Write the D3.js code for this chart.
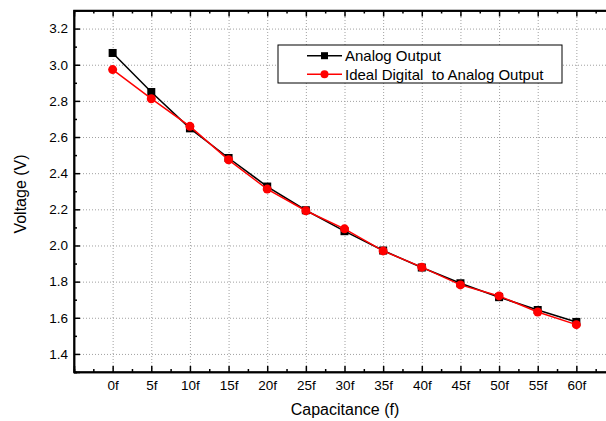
<!DOCTYPE html>
<html>
<head>
<meta charset="utf-8">
<script src="https://cdn.jsdelivr.net/npm/d3@7"></script>
<style>
  body { margin: 0; background: #fff; }
  svg { display: block; font-family: "Liberation Sans", Arial, sans-serif; }
  .grid line { stroke: #a0a0a0; stroke-width: 1; stroke-dasharray: 1,2; }
  .grid path { display: none; }
  .axis path, .axis line { stroke: #000; stroke-width: 1.5; }
  .axis text { font-size: 13.5px; fill: #000; }
</style>
</head>
<body>
<svg width="606" height="421"></svg>
<script>
// data
const capacitance = [0, 5, 10, 15, 20, 25, 30, 35, 40, 45, 50, 55, 60];
const analogOut = [3.065, 2.849, 2.648, 2.484, 2.326, 2.195, 2.079, 1.972, 1.878, 1.791, 1.714, 1.643, 1.577];
const idealOut = [2.973, 2.812, 2.659, 2.474, 2.312, 2.192, 2.092, 1.970, 1.880, 1.782, 1.721, 1.632, 1.562];
const xTicks = [0, 5, 10, 15, 20, 25, 30, 35, 40, 45, 50, 55, 60];
const yTicks = [1.4, 1.6, 1.8, 2.0, 2.2, 2.4, 2.6, 2.8, 3.0, 3.2];

const svg = d3.select("svg");
const plotL = 74, plotR = 615, plotT = 10.5, plotB = 372;

const x = d3.scaleLinear().domain([-5, 65]).range([plotL, plotR]);
const y = d3.scaleLinear().domain([1.3, 3.3]).range([plotB, plotT]);

const xMinor = d3.range(-2.5, 65, 5);
const yMinor = d3.range(1.3, 3.31, 0.2).map(v => +v.toFixed(1));

// grid
svg.append("g").attr("class", "grid")
  .attr("transform", `translate(0,${plotB})`)
  .call(d3.axisBottom(x).tickValues(xTicks).tickSize(-(plotB - plotT)).tickFormat(""));
svg.append("g").attr("class", "grid")
  .attr("transform", `translate(${plotL},0)`)
  .call(d3.axisLeft(y).tickValues(yTicks).tickSize(-(plotR - plotL)).tickFormat(""));

// frame
svg.append("rect")
  .attr("x", plotL).attr("y", plotT)
  .attr("width", plotR - plotL).attr("height", plotB - plotT)
  .attr("fill", "none").attr("stroke", "#000").attr("stroke-width", 1.5);

// axes with inward ticks
svg.append("g").attr("class", "axis")
  .attr("transform", `translate(0,${plotB})`)
  .call(d3.axisBottom(x).tickValues(xTicks).tickSize(-6).tickPadding(8).tickFormat(d => d + "f"));
svg.append("g").attr("class", "axis")
  .attr("transform", `translate(0,${plotB})`)
  .call(d3.axisBottom(x).tickValues(xMinor).tickSize(-3).tickFormat(""));
svg.append("g").attr("class", "axis")
  .attr("transform", `translate(0,${plotT})`)
  .call(d3.axisTop(x).tickValues(xTicks).tickSize(-6).tickFormat(""));
svg.append("g").attr("class", "axis")
  .attr("transform", `translate(0,${plotT})`)
  .call(d3.axisTop(x).tickValues(xMinor).tickSize(-3).tickFormat(""));

svg.append("g").attr("class", "axis")
  .attr("transform", `translate(${plotL},0)`)
  .call(d3.axisLeft(y).tickValues(yTicks).tickSize(-6).tickPadding(6).tickFormat(d3.format(".1f")));
svg.append("g").attr("class", "axis")
  .attr("transform", `translate(${plotL},0)`)
  .call(d3.axisLeft(y).tickValues(yMinor).tickSize(-3).tickFormat(""));
svg.append("g").attr("class", "axis")
  .attr("transform", `translate(${plotR},0)`)
  .call(d3.axisRight(y).tickValues(yTicks).tickSize(-6).tickFormat(""));

// axis titles
svg.append("text")
  .attr("x", 345).attr("y", 415)
  .attr("text-anchor", "middle").attr("font-size", 16)
  .text("Capacitance (f)");
svg.append("text")
  .attr("transform", "translate(25.5,194) rotate(-90)")
  .attr("text-anchor", "middle").attr("font-size", 16)
  .text("Voltage (V)");

// series
const line = d3.line().x(d => x(d[0])).y(d => y(d[1]));
const analogPts = capacitance.map((c, i) => [c, analogOut[i]]);
const idealPts = capacitance.map((c, i) => [c, idealOut[i]]);

svg.append("path").datum(analogPts)
  .attr("d", line).attr("fill", "none").attr("stroke", "#000").attr("stroke-width", 1.5);
svg.selectAll(".sq").data(analogPts).enter().append("rect")
  .attr("x", d => x(d[0]) - 4).attr("y", d => y(d[1]) - 4)
  .attr("width", 8).attr("height", 8).attr("fill", "#000");

svg.append("path").datum(idealPts)
  .attr("d", line).attr("fill", "none").attr("stroke", "#ff0000").attr("stroke-width", 1.5);
svg.selectAll(".dot").data(idealPts).enter().append("circle")
  .attr("cx", d => x(d[0])).attr("cy", d => y(d[1]))
  .attr("r", 4.5).attr("fill", "#ff0000");

// legend
const lg = svg.append("g");
lg.append("rect")
  .attr("x", 278).attr("y", 45).attr("width", 284).attr("height", 38)
  .attr("fill", "#fff").attr("stroke", "#000").attr("stroke-width", 1);
const legendItems = [
  { label: "Analog Output", color: "#000", shape: "square", yy: 55.7 },
  { label: "Ideal Digital  to Analog Output", color: "#ff0000", shape: "circle", yy: 74.3 }
];
legendItems.forEach(it => {
  lg.append("line").attr("x1", 307).attr("x2", 342).attr("y1", it.yy).attr("y2", it.yy)
    .attr("stroke", it.color).attr("stroke-width", 1.5);
  if (it.shape === "square") {
    lg.append("rect").attr("x", 321).attr("y", it.yy - 3.5).attr("width", 7).attr("height", 7).attr("fill", it.color);
  } else {
    lg.append("circle").attr("cx", 324.5).attr("cy", it.yy).attr("r", 4).attr("fill", it.color);
  }
  lg.append("text").attr("x", 345).attr("y", it.yy + 5.3)
    .attr("font-size", 15).style("white-space", "pre")
    .text(it.label);
});
</script>
</body>
</html>
